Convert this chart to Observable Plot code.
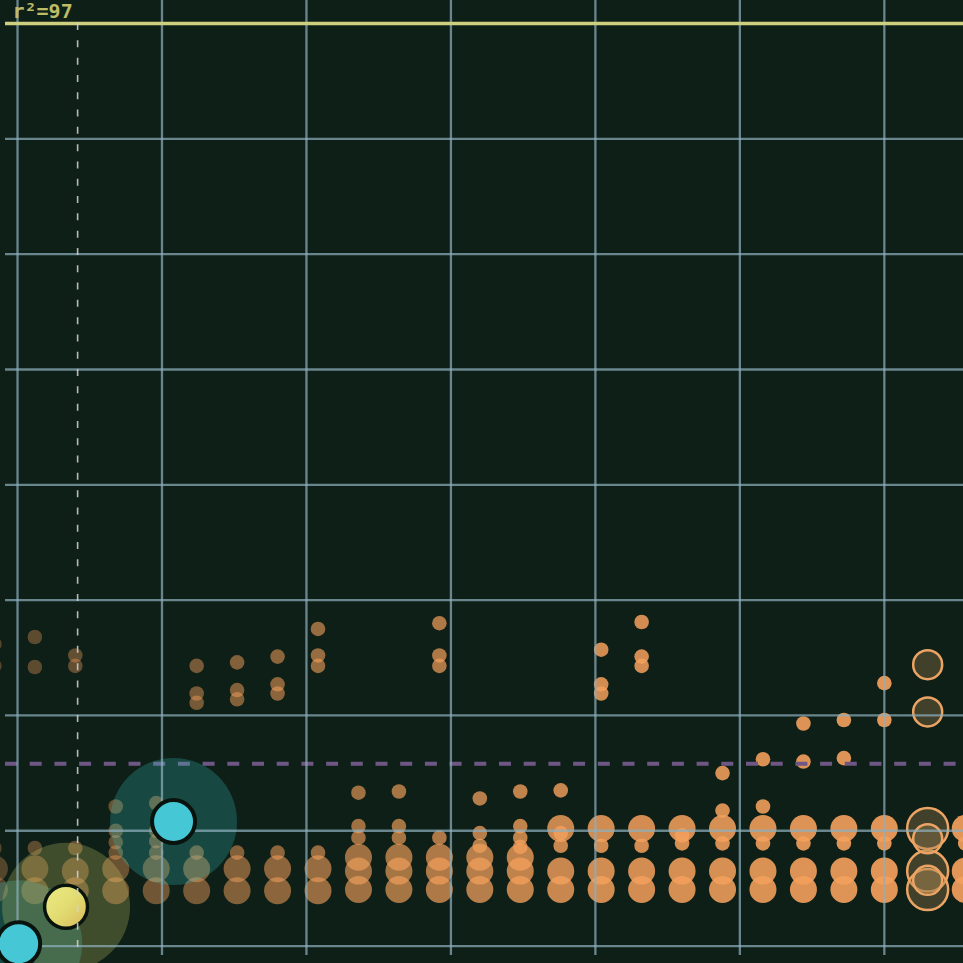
<!DOCTYPE html>
<html><head><meta charset="utf-8">
<script src="https://cdn.jsdelivr.net/npm/d3@7"></script>
<script src="https://cdn.jsdelivr.net/npm/@observablehq/plot@0.6"></script>
<style>html,body{margin:0;padding:0;background:#0e1f17;overflow:hidden}</style>
</head><body><div id="chart"></div>
<script>
// column positions (days); one column per week
const days = [-4, 3, 10, 17, 24, 31, 38, 45, 52, 59, 66, 73, 80, 87, 94, 101, 108, 115, 122, 129, 136, 143, 150, 157, 164];
// large dots per column
const bigVals = [
  [6.7, 4.9], [6.7, 4.8], [6.5, 4.8], [6.7, 4.8], [6.7, 4.8], [6.7, 4.8], [6.7, 4.8], [6.7, 4.8], [6.7, 4.8],
  [7.7, 6.5, 4.9], [7.7, 6.5, 4.9], [7.7, 6.5, 4.9], [7.7, 6.5, 4.9], [7.7, 6.5, 4.9],
  [10.2, 6.5, 4.9], [10.2, 6.5, 4.9], [10.2, 6.5, 4.9], [10.2, 6.5, 4.9], [10.2, 6.5, 4.9],
  [10.2, 6.5, 4.9], [10.2, 6.5, 4.9], [10.2, 6.5, 4.9], [10.2, 6.5, 4.9], [], [10.2, 6.5, 4.9]
];
// small dots per column
const smallVals = [
  [26.2, 24.3, 8.5], [26.8, 24.2, 8.5], [25.2, 24.3, 8.5], [12.1, 10.0, 9.0, 8.1], [12.4, 10.0, 9.1, 8.1],
  [24.3, 21.9, 21.1, 8.1], [24.6, 22.2, 21.4, 8.1], [25.1, 22.7, 21.9, 8.1], [27.5, 25.2, 24.3, 8.1],
  [13.3, 10.4, 9.4], [13.4, 10.4, 9.4], [28.0, 25.2, 24.3, 9.4], [12.8, 9.8, 8.7], [13.4, 10.4, 9.4, 8.6],
  [13.5, 9.8, 8.7], [25.7, 22.7, 21.9, 8.7], [28.1, 25.1, 24.3, 8.7], [9.6, 8.9], [15.0, 11.75, 8.9],
  [16.2, 12.1, 8.9], [19.3, 16.0, 8.9], [19.6, 16.3, 8.9], [22.8, 19.6, 8.9], [], [8.9]
];
// highlighted (ringed) column
const ringDay = 157.5;
const ringBig = [10.2, 6.5, 4.9];
const ringSmall = [24.4, 20.3, 9.3, 5.7];
// highlighted points
const cyanPts = [{day: 27, v: 10.8}, {day: 0.2, v: 0.2}];
const yellowPts = [{day: 8.4, v: 3.4}];
// reference lines
const refTop = 80, refDash = 15.8, refDay = 10.4;
const xGrid = [0, 25, 50, 75, 100, 125, 150];
const yGrid = [0, 10, 20, 30, 40, 50, 60, 70];
const label = "r²=97";

const opac = d3.scaleLinear().domain([-1, 0, 4, 7, 10, 14, 21]).range([0.3, 0.34, 0.46, 0.6, 0.7, 0.85, 0.92]).clamp(true);
const big = [], small = [];
days.forEach((d, i) => {
  bigVals[i].forEach(v => big.push({day: d, v, k: i - 1}));
  smallVals[i].forEach(v => small.push({day: d, v, k: i - 1}));
});
const ringsBig = ringBig.map(v => ({day: ringDay, v}));
const ringsSmall = ringSmall.map(v => ({day: ringDay, v}));

const orange = "#f3a05c";
const gridStyle = {stroke: "#8eaebd", strokeOpacity: 0.72, strokeWidth: 2.3};
const ringStyle = {x: "day", y: "v", fill: "#a08050", fillOpacity: 0.35, stroke: "#eba463", strokeWidth: 2.5};

const chart = Plot.plot({
  width: 963, height: 963,
  marginLeft: 5, marginRight: 0, marginTop: 0, marginBottom: 8,
  style: {background: "#0e1f17", overflow: "visible"},
  x: {domain: [-2.08, 163.7], axis: null},
  y: {domain: [-0.82, 82.0], axis: null},
  marks: [
    Plot.dot(big, {x: "day", y: "v", r: 13.5, fill: orange, fillOpacity: d => opac(d.k), stroke: "none"}),
    Plot.dot(small, {x: "day", y: "v", r: 7.3, fill: orange, fillOpacity: d => opac(d.k), stroke: "none"}),
    Plot.dot(ringsBig, {...ringStyle, r: 20.5}),
    Plot.dot(ringsSmall, {...ringStyle, r: 14.5}),
    Plot.ruleY([refDash], {stroke: "#6e5784", strokeWidth: 4, strokeDasharray: "12,12.7"}),
    Plot.dot(cyanPts, {x: "day", y: "v", r: 63.5, fill: "#35c4c4", fillOpacity: 0.25, stroke: "none"}),
    Plot.dot(yellowPts, {x: "day", y: "v", r: 64, fill: "#d8d870", fillOpacity: 0.25, stroke: "none"}),
    Plot.ruleX(xGrid, gridStyle),
    Plot.ruleY(yGrid, gridStyle),
    Plot.ruleY([refTop], {stroke: "#cfcf80", strokeWidth: 3.5}),
    Plot.dot(cyanPts, {x: "day", y: "v", r: 21.5, fill: "#46c7d6", stroke: "#08130e", strokeWidth: 4}),
    Plot.dot(yellowPts, {x: "day", y: "v", r: 21.5, fill: "url(#yg)", stroke: "#08130e", strokeWidth: 3.5}),
    Plot.ruleX([refDay], {y1: refTop, y2: -0.82, stroke: "#d5d5d5", strokeOpacity: 0.85, strokeWidth: 1.6, strokeDasharray: "7,10.3"}),
    Plot.text([label], {frameAnchor: "top-left", dx: 7, dy: 17, lineAnchor: "bottom", textAnchor: "start", fill: "#bdbb66", fontSize: 20, fontWeight: "bold", fontFamily: "DejaVu Sans Mono"})
  ]
});
const defs = document.createElementNS("http://www.w3.org/2000/svg", "defs");
defs.innerHTML = '<linearGradient id="yg" x1="0" y1="0" x2="1" y2="1"><stop offset="0" stop-color="#ecea85"/><stop offset="0.5" stop-color="#e2dc72"/><stop offset="1" stop-color="#d9b65a"/></linearGradient>';
chart.insertBefore(defs, chart.firstChild);
document.getElementById("chart").appendChild(chart);
</script></body></html>
